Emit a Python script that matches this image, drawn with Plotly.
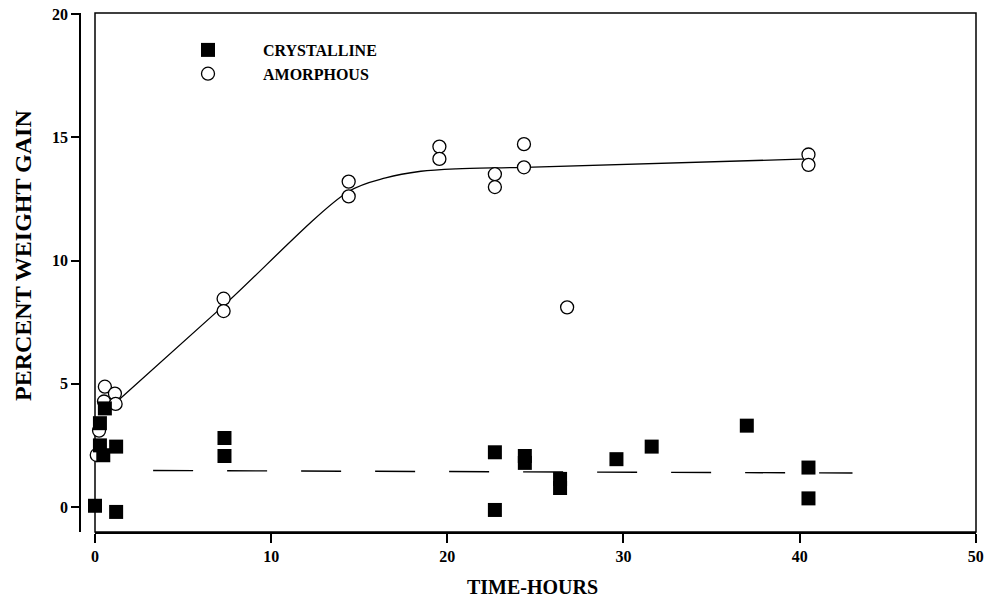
import plotly.graph_objects as go

# Weight gain (%) versus time (hours)
amorphous_hours = [0.1, 0.23, 0.51, 0.56, 1.13, 1.17, 7.3, 7.3, 14.4, 14.4,
                   19.55, 19.55, 22.7, 22.7, 24.35, 24.35, 26.8, 40.5, 40.5]
amorphous_gain = [2.11, 3.1, 4.28, 4.88, 4.6, 4.18, 8.45, 7.95, 13.2, 12.6,
                  14.62, 14.12, 13.5, 12.98, 14.72, 13.78, 8.1, 14.3, 13.88]

crystalline_hours = [0.0, 0.28, 0.28, 0.47, 0.56, 1.2, 1.2, 7.35, 7.35, 22.7,
                     22.7, 24.4, 24.4, 26.4, 26.4, 29.6, 31.6, 37.0, 40.5, 40.5]
crystalline_gain = [0.05, 3.4, 2.5, 2.1, 4.0, 2.45, -0.2, 2.8, 2.07, 2.22,
                    -0.12, 2.07, 1.79, 1.14, 0.77, 1.94, 2.45, 3.3, 1.6, 0.35]

# Smooth trend drawn through the amorphous data
amorphous_fit_hours = [1.2, 7.35, 14.4, 16.5, 18.5, 20.5, 24.4, 40.5]
amorphous_fit_gain = [4.25, 8.2, 12.8, 13.35, 13.62, 13.72, 13.78, 14.12]

# Mean level of the crystalline data
crystalline_fit_hours = [3.3, 43.0]
crystalline_fit_gain = [1.48, 1.38]

x_ticks = [0, 10, 20, 30, 40, 50]
y_ticks = [0, 5, 10, 15, 20]

SERIF = "Liberation Serif, Times New Roman, serif"
INK = "black"

# Plot-area geometry (pixels)
LEFT, RIGHT, TOP, BOTTOM = 80, 9, 13, 65
PLOT_W = 985 - LEFT - RIGHT
PLOT_H = 597 - TOP - BOTTOM

fig = go.Figure()

fig.add_trace(go.Scatter(
    x=amorphous_fit_hours, y=amorphous_fit_gain, mode="lines",
    line=dict(color=INK, width=1.3, shape="spline", smoothing=0.9),
    showlegend=False, hoverinfo="skip", cliponaxis=False))

fig.add_trace(go.Scatter(
    x=crystalline_fit_hours, y=crystalline_fit_gain, mode="lines",
    line=dict(color=INK, width=1.4, dash="40px,34px"),
    showlegend=False, hoverinfo="skip", cliponaxis=False))

fig.add_trace(go.Scatter(
    x=amorphous_hours, y=amorphous_gain, mode="markers", name="AMORPHOUS",
    legendrank=2, cliponaxis=False,
    marker=dict(symbol="circle", size=13, color="white",
                line=dict(color=INK, width=1.3))))

fig.add_trace(go.Scatter(
    x=crystalline_hours, y=crystalline_gain, mode="markers", name="CRYSTALLINE",
    legendrank=1, cliponaxis=False,
    marker=dict(symbol="square", size=14, color=INK, line=dict(width=0))))

# Box around the plotting area
fig.add_shape(type="rect", xref="x domain", yref="y domain",
              x0=0, x1=1, y0=0, y1=1, line=dict(color=INK, width=1.5),
              layer="below")

fig.update_layout(
    width=985, height=597,
    margin=dict(l=LEFT, r=RIGHT, t=TOP, b=BOTTOM, autoexpand=False),
    paper_bgcolor="white", plot_bgcolor="white",
    font=dict(family=SERIF, color=INK),
    xaxis=dict(
        domain=[15 / PLOT_W, 1], range=[0, 50.01], automargin=False,
        tickvals=x_ticks, ticktext=[str(v) for v in x_ticks],
        showline=True, linecolor=INK, linewidth=1.5,
        ticks="outside", ticklen=9, tickwidth=1.5, tickcolor=INK,
        showgrid=False, zeroline=False, ticklabeloverflow="allow",
        tickfont=dict(family=SERIF, size=16, weight="bold"),
    ),
    yaxis=dict(
        anchor="free", position=0, range=[-1.014, 20.04], automargin=False,
        tickvals=y_ticks, ticktext=[str(v) for v in y_ticks],
        showline=True, linecolor=INK, linewidth=1.5,
        ticks="outside", ticklen=8, tickwidth=1.5, tickcolor=INK,
        showgrid=False, zeroline=False,
        tickfont=dict(family=SERIF, size=16, weight="bold"),
    ),
    legend=dict(
        x=(153 - LEFT) / PLOT_W, y=(PLOT_H + TOP - 33) / PLOT_H,
        xanchor="left", yanchor="top",
        bgcolor="rgba(0,0,0,0)", borderwidth=0, itemwidth=100,
        font=dict(family=SERIF, size=16, weight="bold"),
        traceorder="normal",
    ),
    annotations=[
        dict(text="TIME-HOURS", xref="paper", yref="paper",
             x=(532 - LEFT) / PLOT_W, y=(PLOT_H + TOP - 587) / PLOT_H,
             xanchor="center", yanchor="middle", showarrow=False,
             font=dict(family=SERIF, size=20, weight="bold")),
        dict(text="PERCENT WEIGHT GAIN", xref="paper", yref="paper",
             x=(23 - LEFT) / PLOT_W, y=(PLOT_H + TOP - 256) / PLOT_H,
             textangle=-90,
             xanchor="center", yanchor="middle", showarrow=False,
             font=dict(family=SERIF, size=24, weight="bold")),
    ],
)

fig.write_html("out.html")
